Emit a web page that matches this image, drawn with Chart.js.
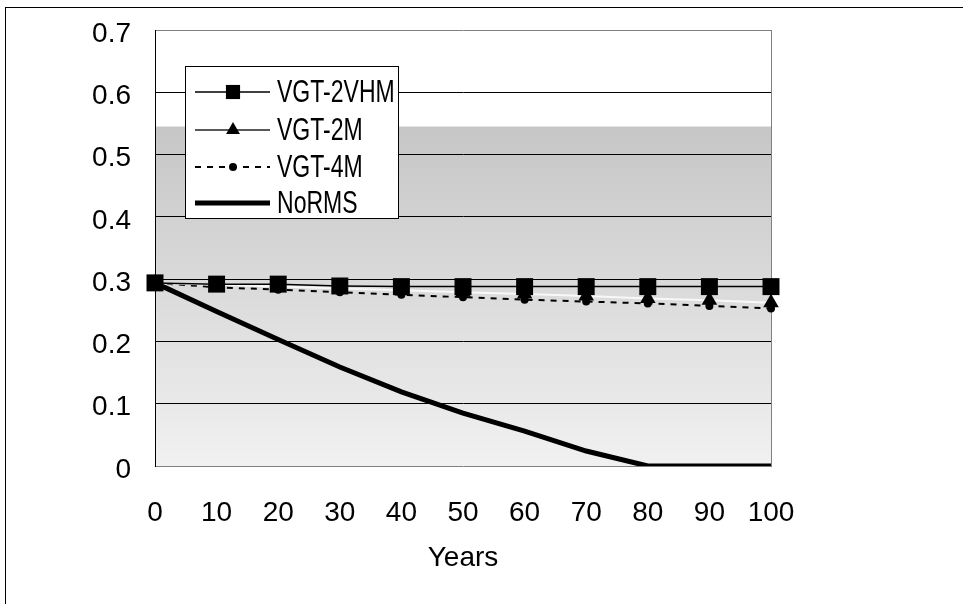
<!DOCTYPE html>
<html>
<head>
<meta charset="utf-8">
<script src="https://cdn.jsdelivr.net/npm/chart.js@4"></script>
<style>
  body { margin: 0; background: #fff; }
  #wrap { position: absolute; left: 0; top: 0; width: 963px; height: 604px; }
</style>
</head>
<body>
<div id="wrap"><canvas id="chart" width="963" height="604"></canvas></div>
<script>
// values
const years = [0, 10, 20, 30, 40, 50, 60, 70, 80, 90, 100];
const vgt2vhm = [0.294, 0.292, 0.292, 0.289, 0.288, 0.288, 0.288, 0.288, 0.288, 0.288, 0.288];
const vgt2m = [0.294, 0.291, 0.288, 0.285, 0.282, 0.279, 0.276, 0.273, 0.269, 0.266, 0.262];
const vgt4m = [0.294, 0.287, 0.283, 0.279, 0.275, 0.271, 0.267, 0.264, 0.261, 0.257, 0.253];
const noRms = [0.294, 0.248, 0.203, 0.159, 0.119, 0.085, 0.056, 0.024, 0, 0, 0];
const seriesNames = ['VGT-2VHM', 'VGT-2M', 'VGT-4M', 'NoRMS'];
const yMin = 0, yMax = 0.7, yStep = 0.1;
const bandTop = 0.545; // where the grey shading starts

const FONT = "'Liberation Sans', Arial, sans-serif";

// white top, grey shading below, plus the outer frame
const plotBackground = {
    id: 'plotBackground',
    beforeDraw(chart) {
        const { ctx, chartArea: a, scales } = chart;
        ctx.save();
        ctx.strokeStyle = '#000';
        ctx.lineWidth = 1;
        ctx.strokeRect(5.5, 7.5, 2000, 2000);
        ctx.fillStyle = '#fff';
        ctx.fillRect(a.left, a.top, a.right - a.left, a.bottom - a.top);
        const yTop = scales.y.getPixelForValue(bandTop);
        const g = ctx.createLinearGradient(0, yTop, 0, a.bottom);
        g.addColorStop(0, '#c6c6c6');
        g.addColorStop(1, '#f1f1f1');
        ctx.fillStyle = g;
        ctx.fillRect(a.left, yTop, a.right - a.left, a.bottom - yTop);
        ctx.restore();
    }
};

// legend with line + marker samples, squeezed text
const boxLegend = {
    id: 'boxLegend',
    afterDraw(chart) {
        const ctx = chart.ctx;
        const x0 = 185, y0 = 66, w = 213, h = 152;
        const rows = [92, 130, 167, 203];
        ctx.save();
        ctx.fillStyle = '#fff';
        ctx.fillRect(x0, y0, w, h);
        ctx.strokeStyle = '#000';
        ctx.lineWidth = 1;
        ctx.strokeRect(x0 + 0.5, y0 + 0.5, w, h);
        chart.data.datasets.forEach((ds, i) => {
            const y = rows[i];
            ctx.save();
            ctx.strokeStyle = ds.legendColor || ds.borderColor;
            ctx.lineWidth = ds.legendWidth || ds.borderWidth;
            ctx.setLineDash(ds.borderDash || []);
            ctx.beginPath();
            ctx.moveTo(195, y);
            ctx.lineTo(270, y);
            ctx.stroke();
            ctx.restore();
            if (ds.pointRadius > 0) {
                ctx.save();
                ctx.fillStyle = '#000';
                ctx.strokeStyle = '#000';
                Chart.helpers.drawPoint(ctx, {
                    pointStyle: ds.pointStyle,
                    rotation: 0,
                    borderWidth: 0,
                    radius: ds.legendRadius || ds.pointRadius
                }, 233, y);
                ctx.restore();
            }
            ctx.save();
            ctx.translate(277, y + 1);
            ctx.scale(0.72, 1);
            ctx.fillStyle = '#000';
            ctx.font = '32px ' + FONT;
            ctx.textBaseline = 'middle';
            ctx.fillText(ds.label, 0, 0);
            ctx.restore();
        });
        ctx.restore();
    }
};

const ctx = document.getElementById('chart').getContext('2d');
new Chart(ctx, {
    type: 'line',
    data: {
        labels: years,
        datasets: [
            {
                label: seriesNames[0],
                data: vgt2vhm,
                borderColor: '#000',
                borderWidth: 1.5,
                pointStyle: 'rect',
                pointRadius: 12,
                legendRadius: 10,
                pointBackgroundColor: '#000',
                pointBorderWidth: 0
            },
            {
                label: seriesNames[1],
                data: vgt2m,
                borderColor: '#f8f8f8',
                legendColor: '#222',
                legendWidth: 1.5,
                borderWidth: 2,
                pointStyle: 'triangle',
                pointRadius: 9,
                legendRadius: 8,
                pointBackgroundColor: '#000',
                pointBorderWidth: 0
            },
            {
                label: seriesNames[2],
                data: vgt4m,
                borderColor: '#000',
                borderWidth: 2,
                borderDash: [6, 6],
                pointStyle: 'circle',
                pointRadius: 4,
                pointBackgroundColor: '#000',
                pointBorderWidth: 0
            },
            {
                label: seriesNames[3],
                data: noRms,
                borderColor: '#000',
                borderWidth: 5,
                pointRadius: 0
            }
        ]
    },
    options: {
        responsive: false,
        animation: false,
        layout: { padding: { left: 0, top: 30, right: 192, bottom: 0 } },
        plugins: {
            legend: { display: false },
            tooltip: { enabled: false }
        },
        scales: {
            x: {
                type: 'category',
                offset: false,
                grid: {
                    drawTicks: false,
                    color: c => c.index === years.length - 1 ? '#808080' : 'rgba(0,0,0,0)'
                },
                border: { color: '#808080', width: 1 },
                ticks: {
                    color: '#000',
                    padding: 30,
                    maxRotation: 0,
                    autoSkip: false,
                    font: { family: FONT, size: 28 }
                },
                title: {
                    display: true,
                    text: 'Years',
                    color: '#000',
                    font: { family: FONT, size: 28 },
                    padding: { top: 0, bottom: 29 }
                },
                afterFit(scale) {
                    scale.height = 138;
                    scale.paddingLeft = 0;
                    scale.paddingRight = 0;
                }
            },
            y: {
                min: yMin,
                max: yMax,
                grid: {
                    drawTicks: false,
                    color: c => {
                        const v = Math.round(c.tick.value * 10) / 10;
                        if (v === 0) return 'rgba(0,0,0,0)';
                        if (v === yMax) return '#808080';
                        return '#000';
                    }
                },
                border: { color: '#000', width: 1 },
                ticks: {
                    stepSize: yStep,
                    color: '#000',
                    padding: 24,
                    labelOffset: 4,
                    font: { family: FONT, size: 28 },
                    callback: v => String(Math.round(v * 10) / 10)
                },
                afterFit(scale) {
                    scale.width = 155;
                    scale.paddingTop = 0;
                    scale.paddingBottom = 0;
                }
            }
        }
    },
    plugins: [plotBackground, boxLegend]
});
</script>
</body>
</html>
